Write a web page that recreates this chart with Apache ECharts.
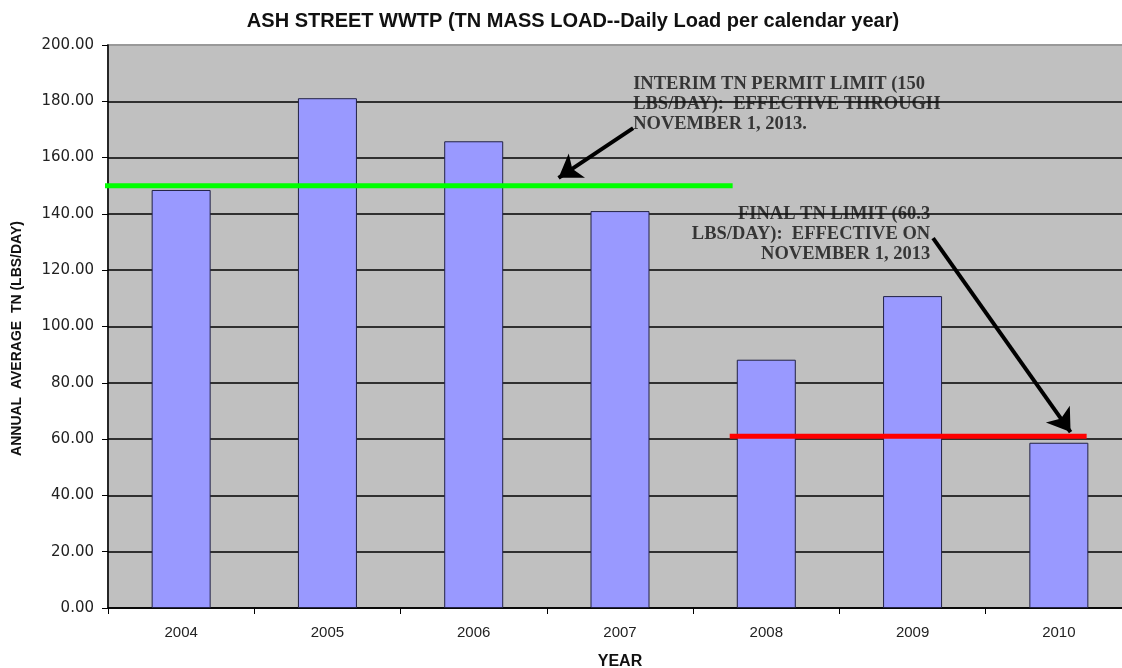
<!DOCTYPE html>
<html>
<head>
<meta charset="utf-8">
<script src="https://cdn.jsdelivr.net/npm/echarts@6/dist/echarts.min.js"></script>
<style>html,body{margin:0;padding:0;background:#fff}#c{width:1122px;height:668px}</style>
</head>
<body>
<div id="c"></div>
<script>
const years = ['2004','2005','2006','2007','2008','2009','2010'];
const tnLoad = [148.5, 181.1, 165.8, 141.0, 88.2, 110.8, 58.7];
const yTicks = [0, 20, 40, 60, 80, 100, 120, 140, 160, 180, 200];
// limit lines, positions along category span (0..7) and value
const interimLimit = [[-0.034, 150], [4.27, 150]];
const finalLimit = [[4.25, 61], [6.69, 61]];
const arrow1 = [[3.59, 170.5], [3.08, 152.8]];
const arrow2 = [[5.64, 131.4], [6.58, 62.5]];
const note1 = { pos: [3.59, 189.5], text: 'INTERIM TN PERMIT LIMIT (150\nLBS/DAY):  EFFECTIVE THROUGH\nNOVEMBER 1, 2013.' };
const note2 = { pos: [5.62, 143.5], text: 'FINAL TN LIMIT (60.3\nLBS/DAY):  EFFECTIVE ON\nNOVEMBER 1, 2013' };

const cond = '"Liberation Sans", Arial, sans-serif';
const chart = echarts.init(document.getElementById('c'), null, {renderer: 'canvas'});
chart.setOption({
  animation: false,
  backgroundColor: '#ffffff',
  title: {
    text: 'ASH STREET WWTP (TN MASS LOAD--Daily Load per calendar year)',
    left: 568, top: 6, textAlign: 'center',
    textStyle: { fontFamily: cond, fontWeight: 'bold', fontSize: 20, color: '#111' }
  },
  grid: { left: 108, top: 45, width: 1024, height: 563, containLabel: false, outerBoundsMode: 'none',
    show: true, backgroundColor: '#C0C0C0', borderColor: '#999', borderWidth: 2 },
  xAxis: [{
    type: 'category', data: years,
    name: 'YEAR', nameLocation: 'middle', nameGap: 46,
    nameTextStyle: { fontFamily: cond, fontWeight: 'bold', fontSize: 16, color: '#111' },
    axisLine: { lineStyle: { color: '#000', width: 1.5 } },
    axisTick: { show: true, length: 6, lineStyle: { color: '#000' } },
    axisLabel: { fontFamily: cond, fontSize: 15, color: '#222', margin: 17 },
    splitLine: { show: false }
  }, {
    type: 'value', min: 0, max: 7, show: false
  }],
  yAxis: {
    type: 'value', min: 0, max: 200, interval: 20,
    name: 'ANNUAL  AVERAGE  TN (LBS/DAY)', nameLocation: 'middle', nameGap: 84,
    nameTextStyle: { fontFamily: cond, fontWeight: 'bold', fontSize: 14, color: '#111', padding: [0, 24, 0, 0] },
    axisLine: { show: true, lineStyle: { color: '#000', width: 1.5 } },
    axisTick: { show: true, length: 6, lineStyle: { color: '#000' } },
    axisLabel: { fontFamily: '"DejaVu Sans", Verdana, sans-serif', fontSize: 15, color: '#222', margin: 14,
      formatter: v => yTicks.includes(v) ? v.toFixed(2) : '' },
    splitLine: { show: true, showMaxLine: false, lineStyle: { color: '#000', width: 1.5 } }
  },
  series: [{
    type: 'bar', data: tnLoad, barWidth: 59,
    itemStyle: { color: '#9999FF', borderColor: '#222244', borderWidth: 1 }
  }, {
    type: 'line', xAxisIndex: 1, data: interimLimit, symbol: 'none', clip: false,
    lineStyle: { color: '#00FF00', width: 5 }, z: 5
  }, {
    type: 'line', xAxisIndex: 1, data: finalLimit, symbol: 'none', clip: false,
    lineStyle: { color: '#FF0000', width: 5 }, z: 5
  }, {
    type: 'lines', coordinateSystem: 'cartesian2d', xAxisIndex: 1,
    symbol: ['none', 'arrow'], symbolSize: [11, 22],
    lineStyle: { color: '#000', width: 4, opacity: 1 },
    data: [{ coords: arrow1 }, { coords: arrow2 }], z: 6
  }, {
    type: 'scatter', xAxisIndex: 1, symbolSize: 0, clip: false, z: 7,
    data: [
      { value: note1.pos, label: { show: true, formatter: note1.text, position: [0, 0], align: 'left', verticalAlign: 'top' } },
      { value: note2.pos, label: { show: true, formatter: note2.text, position: [0, 0], align: 'right', verticalAlign: 'top' } }
    ],
    label: { fontFamily: '"Liberation Serif", "Times New Roman", serif', fontWeight: 'bold', fontSize: 18.5, lineHeight: 20, color: '#111' }
  }]
});
</script>
</body>
</html>
